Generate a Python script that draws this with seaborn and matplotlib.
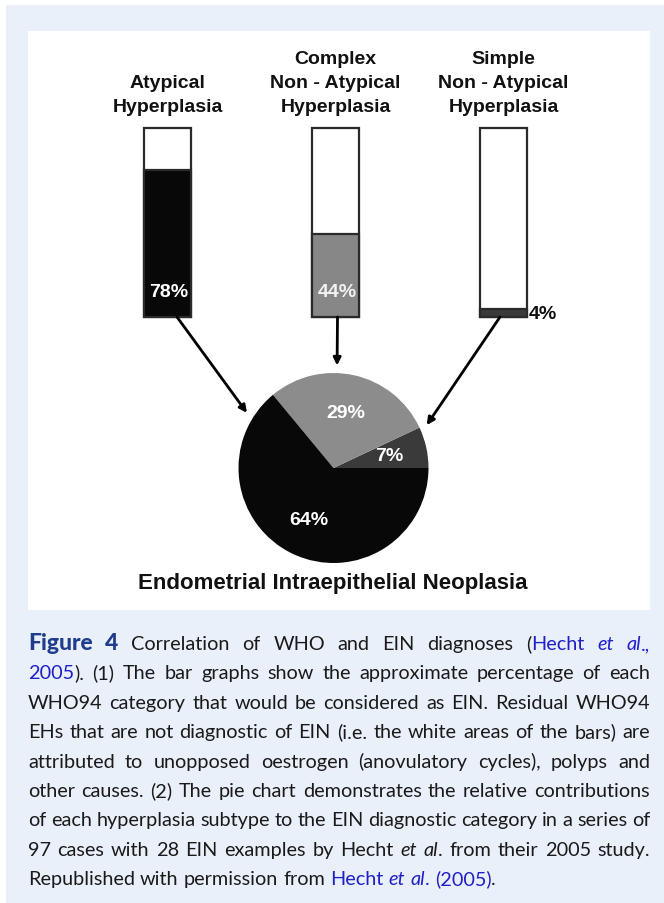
#!/usr/bin/env python3
# figura4.py

import re
import matplotlib
matplotlib.use('Agg')
import numpy as np
import pandas as pd
import matplotlib.pyplot as plt
import seaborn as sns
from matplotlib.patches import Rectangle

W, H = 664, 904

# Dados das barras
categorias = ['Atypical\nHyperplasia',
              'Complex\nNon - Atypical\nHyperplasia',
              'Simple\nNon - Atypical\nHyperplasia']
pct_ein = [78, 44, 4]
pct_total = [100, 100, 100]
cores_barra = ['#080808', '#878787', '#3a3a3a']
cor_rotulo_barra = ['white', '#f2f2f2', '#111111']

# Dados da pizza (anti-horário a partir das 3h)
pizza_nomes = ['Simple', 'Complex', 'Atypical']
pizza_vals = [7, 29, 64]
cores_pizza = ['#3a3a3a', '#8c8c8c', '#080808']

titulo = 'Endometrial Intraepithelial Neoplasia'

# Legenda (b = Figure 4, l = link, li = link itálico, i = itálico)
legenda = [
    "{b:Figure} {b:4} Correlation of WHO and EIN diagnoses ({l:Hecht} {li:et} {li:al}{l:.,}",
    "{l:2005}). (1) The bar graphs show the approximate percentage of each",
    "WHO94 category that would be considered as EIN. Residual WHO94",
    "EHs that are not diagnostic of EIN (i.e. the white areas of the bars) are",
    "attributed to unopposed oestrogen (anovulatory cycles), polyps and",
    "other causes. (2) The pie chart demonstrates the relative contributions",
    "of each hyperplasia subtype to the EIN diagnostic category in a series of",
    "97 cases with 28 EIN examples by Hecht {i:et} {i:al}. from their 2005 study.",
    "Republished with permission from {l:Hecht} {li:et} {li:al}{l:.} {l:(2005)}.",
]


def fx(x):
    return x / W


def fy(y):
    return 1 - y / H


sns.set_theme(style='white')
plt.rcParams['font.family'] = ['Liberation Sans', 'DejaVu Sans']

fig = plt.figure(figsize=(W / 100, H / 100), dpi=100)
fig.patch.set_facecolor('white')

# Fundos
fig.patches.append(Rectangle((fx(6), 0), 1 - fx(6), fy(6), transform=fig.transFigure,
                             facecolor='#e9f0fa', edgecolor='none', zorder=-2))
fig.patches.append(Rectangle((fx(28), fy(611)), fx(650) - fx(28), fy(32) - fy(611),
                             transform=fig.transFigure, facecolor='white',
                             edgecolor='none', zorder=-1))

# Barras
passo_barra = 168  # px entre centros
df = pd.DataFrame({'cat': categorias, 'ein': pct_ein, 'total': pct_total})
ax = fig.add_axes([fx(83.5), fy(318), 3 * passo_barra / W, 189 / H])
sns.barplot(data=df, x='cat', y='total', color='white', edgecolor='#2a2a2a',
            linewidth=1.6, width=0.28, ax=ax)
sns.barplot(data=df, x='cat', y='ein', hue='cat', palette=cores_barra,
            edgecolor='#2a2a2a', linewidth=1.6, width=0.28, legend=False, ax=ax)
ax.set_xlim(-0.5, 2.5)
ax.set_ylim(0, 100)
ax.axis('off')
for p in ax.patches:
    p.set_clip_on(False)

px = 0.72  # pixels -> pontos
for i, rot in enumerate(categorias):
    for j, linha in enumerate(reversed(rot.split('\n'))):
        ax.annotate(linha, xy=(i, 100), xytext=(0, (17 + 24 * j) * px),
                    textcoords='offset points', ha='center', va='baseline',
                    fontsize=14, fontweight='bold', color='#111111',
                    annotation_clip=False)

for i, v in enumerate(pct_ein):
    if v > 20:
        ax.annotate(f'{v}%', xy=(i, 0), xytext=(1.5 * px, 21 * px), textcoords='offset points',
                    ha='center', va='baseline', fontsize=14, fontweight='bold',
                    color=cor_rotulo_barra[i], annotation_clip=False)
    else:
        ax.annotate(f'{v}%', xy=(i + 0.14, 0), xytext=(2 * px, -1 * px),
                    textcoords='offset points', ha='left', va='baseline',
                    fontsize=14, fontweight='bold', color=cor_rotulo_barra[i],
                    annotation_clip=False)

# Pizza
cx, cy, r = 333.5, 469, 95
pax = fig.add_axes([fx(cx - r), fy(cy + r), 2 * r / W, 2 * r / H])
_, rotulos_pizza, _ = pax.pie(pizza_vals, colors=cores_pizza, startangle=0, counterclock=True,
                              autopct=lambda p: f'{p:.0f}%', pctdistance=0.6,
                              wedgeprops=dict(linewidth=0.5, edgecolor='none'),
                              textprops=dict(color='white', fontsize=14, fontweight='bold'))
# posição polar dos rótulos (raio relativo, ângulo)
pos_rotulos = [(0.68, 15), (0.58, 86), (0.53, 250)]
for t, (rr, ang) in zip(rotulos_pizza, pos_rotulos):
    t.set_position((rr * np.cos(np.deg2rad(ang)), rr * np.sin(np.deg2rad(ang))))
pax.set_xlim(-1, 1)
pax.set_ylim(-1, 1)
pax.set_aspect('equal')

# Setas das barras até a pizza (deslocamento do início em px, ângulo de chegada)
inicio_dx = [9.5, 2.0, -3.5]
angulos = [147.5, 88, 24.7]
for i in range(3):
    a = np.deg2rad(angulos[i])
    an = ax.annotate('', xy=(1.08 * np.cos(a), 1.08 * np.sin(a)), xycoords=pax.transData,
                     xytext=(i + inicio_dx[i] / passo_barra, 0), textcoords=ax.transData,
                     arrowprops=dict(arrowstyle='-|>', color='black', lw=2,
                                     mutation_scale=11, shrinkA=0, shrinkB=0),
                     annotation_clip=False)
    an.arrow_patch.set_clip_on(False)

fig.text(fx(333), fy(589), titulo, ha='center', va='baseline', fontsize=16,
         fontweight='bold', color='#111111')

# Legenda justificada
fonte = ['Lato', 'DejaVu Sans']
estilos = {
    'n': dict(color='#1a1a1a', family=fonte, fontsize=14.3),
    'b': dict(color='#1f3d8c', family=fonte, fontweight='black', fontsize=16.5),
    'l': dict(color='#2020c8', family=fonte, fontsize=14.3),
    'li': dict(color='#2020c8', family=fonte, fontstyle='italic', fontsize=14.3),
    'i': dict(color='#1a1a1a', family=fonte, fontstyle='italic', fontsize=14.3),
}
renderer = fig.canvas.get_renderer()


def partes(palavra):
    out = []
    for m in re.finditer(r'\{(\w+):([^}]*)\}|([^{]+)', palavra):
        if m.group(3):
            out.append((m.group(3), 'n'))
        else:
            out.append((m.group(2), m.group(1)))
    return out


def largura(txt, st):
    t = fig.text(0, 0, txt, **estilos[st])
    w = t.get_window_extent(renderer).width
    t.remove()
    return w


x0, x1 = 28, 650
base0, passo = 650, 29.4
for k, linha in enumerate(legenda):
    palavras = [partes(p) for p in linha.split(' ')]
    larg = [[largura(t, s) for t, s in pal] for pal in palavras]
    total = sum(sum(l) for l in larg)
    if k < len(legenda) - 1:
        gap = (x1 - x0 - total) / (len(palavras) - 1)
    else:
        gap = largura('a a', 'n') - 2 * largura('a', 'n')
    x = x0
    y = base0 + passo * k
    for pal, lw in zip(palavras, larg):
        for (t, s), w in zip(pal, lw):
            fig.text(fx(x), fy(y), t, ha='left', va='baseline', **estilos[s])
            x += w
        x += gap

fig.savefig('out.png', dpi=100)
plt.close(fig)
